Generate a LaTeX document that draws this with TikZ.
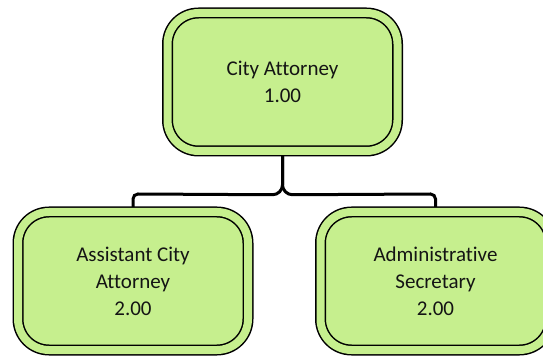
\documentclass[tikz,border=0pt]{standalone}
\usepackage{fontspec}
\setmainfont{Carlito}[Ligatures={NoCommon,NoContextual}]
\usetikzlibrary{backgrounds}
\definecolor{boxgreen}{RGB}{198,239,142}
\definecolor{inkblack}{RGB}{20,20,20}
\tikzset{
  orgbox/.style={draw=black, line width=1.5pt, double=boxgreen,
    double distance=8pt, fill=boxgreen, rounded corners=31pt,
    minimum width=230pt, minimum height=138pt, inner sep=0pt,
    align=center, text=inkblack,
    font=\fontsize{21pt}{27pt}\selectfont},
  orglink/.style={draw=black, line width=3pt}
}
\begin{document}
\begin{tikzpicture}[x=1pt,y=1pt]
  \useasboundingbox (0,0) rectangle (543,356);
  \clip (0,0) rectangle (543,356);

  % positions
  \node[orgbox] (top)   at (282.5,274) {City Attorney\\1.00};
  \node[orgbox] (left)  at (133,75)    {Assistant City\\Attorney\\2.00};
  \node[orgbox] (right) at (435.5,75)  {Administrative\\Secretary\\2.00};

  % reporting lines, kept under the boxes
  \coordinate (split) at ([yshift=-33pt]top.south);
  \begin{pgfonlayer}{background}
    \draw[orglink] (top.south) -- (split)
      arc[start angle=180, end angle=270, radius=10pt]
      -- ([xshift=-5pt,yshift=5pt]right.north |- 0,157)
      arc[start angle=90, end angle=0, radius=5pt]
      -- (right.north);
    \draw[orglink] (top.south) -- (split)
      arc[start angle=0, end angle=-90, radius=10pt]
      -- ([xshift=5pt,yshift=5pt]left.north |- 0,157)
      arc[start angle=90, end angle=180, radius=5pt]
      -- (left.north);
  \end{pgfonlayer}
\end{tikzpicture}
\end{document}
